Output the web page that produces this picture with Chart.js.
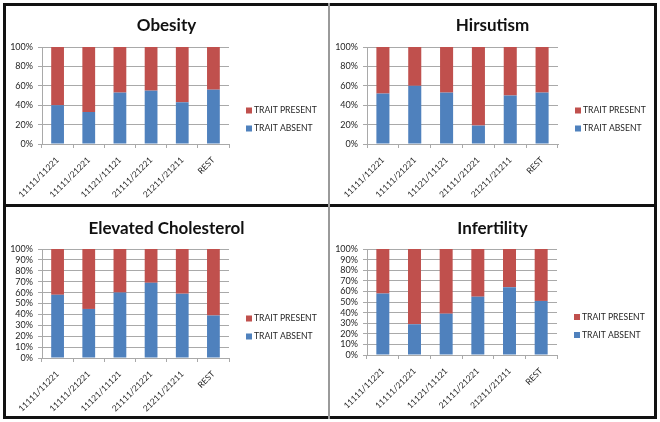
<!DOCTYPE html>
<html>
<head>
<meta charset="utf-8">
<script src="https://cdn.jsdelivr.net/npm/chart.js@4.4.0/dist/chart.umd.min.js"></script>
<style>
  html, body { margin: 0; padding: 0; background: #ffffff; }
  #wrap { position: relative; width: 660px; height: 422px; overflow: hidden; background: #fff; }
  canvas { position: absolute; }
  .line { position: absolute; }
</style>
</head>
<body>
<div id="wrap">
  <canvas id="c1" width="323" height="199" style="left:5px;top:5px;"></canvas>
  <canvas id="c2" width="325" height="199" style="left:330px;top:5px;"></canvas>
  <canvas id="c3" width="323" height="210" style="left:5px;top:207px;"></canvas>
  <canvas id="c4" width="325" height="210" style="left:330px;top:207px;"></canvas>
  <div class="line" style="left:3px;top:3px;width:654px;height:3px;background:#111;"></div>
  <div class="line" style="left:3px;top:416px;width:654px;height:3px;background:#111;"></div>
  <div class="line" style="left:3px;top:3px;width:3px;height:416px;background:#111;"></div>
  <div class="line" style="left:654px;top:3px;width:3px;height:416px;background:#111;"></div>
  <div class="line" style="left:3px;top:204px;width:654px;height:3px;background:#111;"></div>
  <div class="line" style="left:328px;top:3px;width:2px;height:416px;background:#9a9a9a;"></div>
</div>
<script>
const categories = ["11111/11221", "11111/21221", "11121/11121", "21111/21221", "21211/21211", "REST"];
const seriesNames = ["TRAIT ABSENT", "TRAIT PRESENT"];

const obesityAbsent = [40, 33, 53, 55, 43, 56];
const obesityPresent = [60, 67, 47, 45, 57, 44];

const hirsutismAbsent = [52, 60, 53, 19, 50, 53];
const hirsutismPresent = [48, 40, 47, 81, 50, 47];

const cholesterolAbsent = [58, 45, 60, 69, 59, 39];
const cholesterolPresent = [42, 55, 40, 31, 41, 61];

const infertilityAbsent = [58, 29, 39, 55, 64, 51];
const infertilityPresent = [42, 71, 61, 45, 36, 49];

const yTicksTop = [0, 20, 40, 60, 80, 100];
const yTicksBottom = [0, 10, 20, 30, 40, 50, 60, 70, 80, 90, 100];

const BLUE = '#4F81BD';
const RED = '#C0504D';
const GRID = '#a9a9a9';
const TEXT = '#262626';
const FONT = 'Lato, "Open Sans", sans-serif';

const legendPlugin = {
  id: 'customLegend',
  afterDraw(chart) {
    const ctx = chart.ctx;
    const a = chart.chartArea;
    const cy = (a.top + a.bottom) / 2;
    const ds = chart.data.datasets;
    const items = [ds[1], ds[0]];
    ctx.save();
    ctx.font = '8.6px ' + FONT;
    ctx.textBaseline = 'middle';
    ctx.textAlign = 'left';
    items.forEach((d, i) => {
      const y = cy + 15 + i * 18;
      ctx.fillStyle = d.backgroundColor;
      ctx.fillRect(a.right + 17, y - 3, 6, 6);
      ctx.fillStyle = TEXT;
      ctx.fillText(d.label, a.right + 25, y);
    });
    ctx.restore();
  }
};

function makeChart(id, title, absent, present, ticks, opts) {
  new Chart(document.getElementById(id), {
    type: 'bar',
    data: {
      labels: categories,
      datasets: [
        { label: seriesNames[0], data: absent, backgroundColor: BLUE, barPercentage: 0.41, categoryPercentage: 1.0 },
        { label: seriesNames[1], data: present, backgroundColor: RED, barPercentage: 0.41, categoryPercentage: 1.0 }
      ]
    },
    options: {
      responsive: false,
      animation: false,
      layout: { padding: 0 },
      plugins: {
        legend: { display: false },
        tooltip: { enabled: false },
        title: {
          display: true,
          text: title,
          color: '#111',
          font: { family: FONT, size: 17, weight: 'bold' },
          padding: { top: opts.tTop, bottom: opts.tBottom }
        }
      },
      scales: {
        x: {
          stacked: true,
          grid: { offset: true, drawOnChartArea: false, drawTicks: true, tickLength: 4, color: GRID },
          border: { display: true, color: GRID },
          ticks: { autoSkip: false, minRotation: 45, maxRotation: 45, color: TEXT, font: { family: FONT, size: 8.5 }, padding: 7 },
          afterFit(scale) { scale.height = opts.xH; }
        },
        y: {
          stacked: true,
          min: 0, max: 100,
          grid: { color: GRID, tickLength: 4, drawTicks: true },
          border: { display: true, color: GRID },
          ticks: {
            autoSkip: false, color: TEXT, padding: 5,
            font: { family: FONT, size: 9 },
            callback: v => v + '%'
          },
          afterBuildTicks(scale) { scale.ticks = ticks.map(v => ({ value: v })); },
          afterFit(scale) { scale.width = 37; }
        },
        legendSpace: {
          type: 'linear',
          position: 'right',
          display: true,
          grid: { display: false, drawTicks: false },
          border: { display: false },
          ticks: { display: false },
          afterFit(scale) { scale.width = opts.right; }
        }
      }
    },
    plugins: [legendPlugin]
  });
}

makeChart('c1', 'Obesity', obesityAbsent, obesityPresent, yTicksTop, { right: 99, tTop: 10, tBottom: 11.6, xH: 60 });
makeChart('c2', 'Hirsutism', hirsutismAbsent, hirsutismPresent, yTicksTop, { right: 97, tTop: 10, tBottom: 11.6, xH: 60 });
makeChart('c3', 'Elevated Cholesterol', cholesterolAbsent, cholesterolPresent, yTicksBottom, { right: 99, tTop: 11, tBottom: 10.6, xH: 59 });
makeChart('c4', 'Infertility', infertilityAbsent, infertilityPresent, yTicksBottom, { right: 98, tTop: 11, tBottom: 10.6, xH: 62 });
</script>
</body>
</html>
